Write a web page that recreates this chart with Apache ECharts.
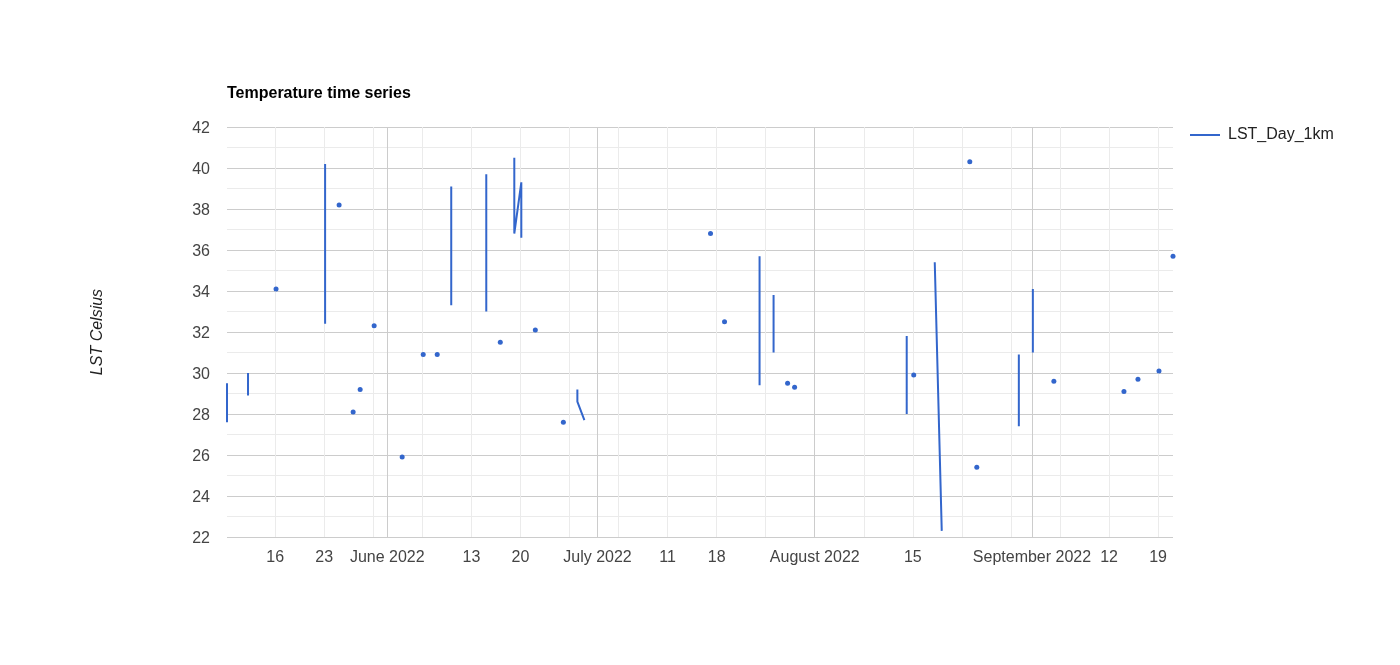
<!DOCTYPE html>
<html>
<head>
<meta charset="utf-8">
<script src="https://cdn.jsdelivr.net/npm/echarts@6/dist/echarts.min.js"></script>
<style>
html,body{margin:0;padding:0;background:#fff;}
#chart{width:1400px;height:665px;}
</style>
</head>
<body>
<div id="chart"></div>
<script>
// ---- data ----
const seriesName = 'LST_Day_1km';
const dates = [
  '2022-05-09','2022-05-09','2022-05-10','2022-05-12','2022-05-12','2022-05-13',
  '2022-05-16','2022-05-17','2022-05-23','2022-05-23','2022-05-24','2022-05-25',
  '2022-05-26','2022-05-27','2022-05-28','2022-05-28','2022-05-29','2022-05-30',
  '2022-05-31','2022-06-03','2022-06-04','2022-06-06','2022-06-07','2022-06-08',
  '2022-06-09','2022-06-10','2022-06-10','2022-06-11','2022-06-15','2022-06-15',
  '2022-06-16','2022-06-17','2022-06-18','2022-06-19','2022-06-19','2022-06-20',
  '2022-06-20','2022-06-21','2022-06-22','2022-06-23','2022-06-26','2022-06-27',
  '2022-06-28','2022-06-28','2022-06-29','2022-06-30','2022-07-17','2022-07-18',
  '2022-07-19','2022-07-20','2022-07-24','2022-07-24','2022-07-25','2022-07-26',
  '2022-07-26','2022-07-27','2022-07-28','2022-07-29','2022-07-29','2022-07-30',
  '2022-08-14','2022-08-14','2022-08-15','2022-08-15','2022-08-16','2022-08-18',
  '2022-08-19','2022-08-20','2022-08-23','2022-08-24','2022-08-24','2022-08-25',
  '2022-08-30','2022-08-30','2022-08-31','2022-09-01','2022-09-01','2022-09-02',
  '2022-09-04','2022-09-05','2022-09-14','2022-09-15','2022-09-16','2022-09-17',
  '2022-09-19','2022-09-20','2022-09-21'
];
const values = [
  29.5, 27.6, null, 30.0, 28.9, null,
  34.1, null, 40.2, 32.4, null, 38.2,
  null, 28.1, null, 29.2, null, 32.3,
  null, 25.9, null, 30.9, null, 30.9,
  null, 39.1, 33.3, null, 39.7, 33.0,
  null, 31.5, null, 40.5, 36.8, 39.3,
  36.6, null, 32.1, null, 27.6, null,
  29.2, 28.6, 27.7, null, 36.8, null,
  32.5, null, 35.7, 29.4, null, 33.8,
  31.0, null, 29.5, null, 29.3, null,
  31.8, 28.0, null, 29.9, null, 35.4,
  22.3, null, 40.3, null, 25.4, null,
  30.9, 27.4, null, 34.1, 31.0, null,
  29.6, null, 29.1, null, 29.7, null,
  30.1, null, 35.7
];
const monthStarts = ['2022-06-01','2022-07-01','2022-08-01','2022-09-01'];
const weekLines = ['2022-05-16','2022-05-23','2022-05-30','2022-06-06','2022-06-13','2022-06-20',
  '2022-06-27','2022-07-04','2022-07-11','2022-07-18','2022-07-25','2022-08-08','2022-08-15',
  '2022-08-22','2022-08-29','2022-09-05','2022-09-12','2022-09-19'];
const tickDates = ['2022-05-16','2022-05-23','2022-06-01','2022-06-13','2022-06-20','2022-07-01',
  '2022-07-11','2022-07-18','2022-08-01','2022-08-15','2022-09-01','2022-09-12','2022-09-19'];
const tickLabels = ['16','23','June 2022','13','20','July 2022','11','18','August 2022','15',
  'September 2022','12','19'];
const yTicks = [22, 24, 26, 28, 30, 32, 34, 36, 38, 40, 42];

// ---- helpers ----
const SAMPLE_HOUR = 3; // samples sit a few hours after local midnight
function ts(s, h) {
  const p = s.split('-').map(Number);
  return new Date(p[0], p[1] - 1, p[2], h || 0).getTime();
}
const seriesData = dates.map((d, i) => {
  const v = values[i];
  const prevNull = i === 0 || values[i - 1] == null;
  const nextNull = i === values.length - 1 || values[i + 1] == null;
  const item = { value: [ts(d, SAMPLE_HOUR), v] };
  if (v != null && prevNull && nextNull) { item.symbol = 'circle'; item.symbolSize = 5; }
  return item;
});
const xMin = ts(dates[0], SAMPLE_HOUR);
const xMax = ts(dates[dates.length - 1], SAMPLE_HOUR);
const labelMap = {};
tickDates.forEach((d, i) => { labelMap[ts(d)] = tickLabels[i]; });
function nearestLabel(v) {
  let best = '', bd = Infinity;
  for (const k in labelMap) { const dd = Math.abs(+k - v); if (dd < bd) { bd = dd; best = labelMap[k]; } }
  return bd < 3600000 ? best : '';
}

const font = 'Arial, "Liberation Sans", sans-serif';
const chart = echarts.init(document.getElementById('chart'), null, { renderer: 'canvas' });
chart.setOption({
  animation: false,
  backgroundColor: '#fff',
  title: {
    text: 'Temperature time series',
    left: 222, top: 81,
    textStyle: { fontFamily: font, fontSize: 16, fontWeight: 'bold', color: '#000' }
  },
  legend: {
    data: [seriesName],
    left: 1185, top: 122,
    icon: 'rect', itemWidth: 30, itemHeight: 2,
    textStyle: { fontFamily: font, fontSize: 16, color: '#222', padding: [0, 0, 0, 3] }
  },
  grid: { left: 227, right: 227, top: 127, bottom: 128, containLabel: false },
  xAxis: [
    {
      type: 'value', min: xMin, max: xMax, scale: true,
      axisLine: { show: false }, axisTick: { show: false, customValues: weekLines.map(d => ts(d)) },
      axisLabel: { show: false },
      splitLine: { show: true, lineStyle: { color: '#ebebeb', width: 1 } }
    },
    {
      type: 'value', min: xMin, max: xMax, scale: true, position: 'bottom',
      axisLine: { show: false },
      axisTick: { show: false, customValues: monthStarts.map(d => ts(d)) },
      axisLabel: {
        show: true, customValues: tickDates.map(d => ts(d)),
        formatter: v => nearestLabel(v),
        fontFamily: font, fontSize: 16, color: '#444', margin: 13
      },
      splitLine: { show: true, lineStyle: { color: '#cccccc', width: 1 } }
    }
  ],
  yAxis: {
    type: 'value', min: yTicks[0], max: yTicks[yTicks.length - 1], interval: 2,
    name: 'LST Celsius', nameLocation: 'middle', nameGap: 121,
    nameTextStyle: { fontFamily: font, fontSize: 16, fontStyle: 'italic', color: '#222' },
    axisLine: { show: false }, axisTick: { show: false },
    axisLabel: {
      margin: 17,
      formatter: v => '{a|' + v + '}',
      rich: { a: { fontFamily: font, fontSize: 16, color: '#444', padding: [4, 0, 0, 0] } }
    },
    splitLine: { show: true, lineStyle: { color: '#cccccc' } },
    minorTick: { show: false, splitNumber: 2 },
    minorSplitLine: { show: true, lineStyle: { color: '#ebebeb' } }
  },
  series: [{
    name: seriesName,
    type: 'line',
    xAxisIndex: 1,
    data: seriesData,
    connectNulls: false,
    symbol: 'none',
    showSymbol: true,
    lineStyle: { color: '#3366cc', width: 2 },
    itemStyle: { color: '#3366cc' },
    clip: false
  }]
});
</script>
</body>
</html>
